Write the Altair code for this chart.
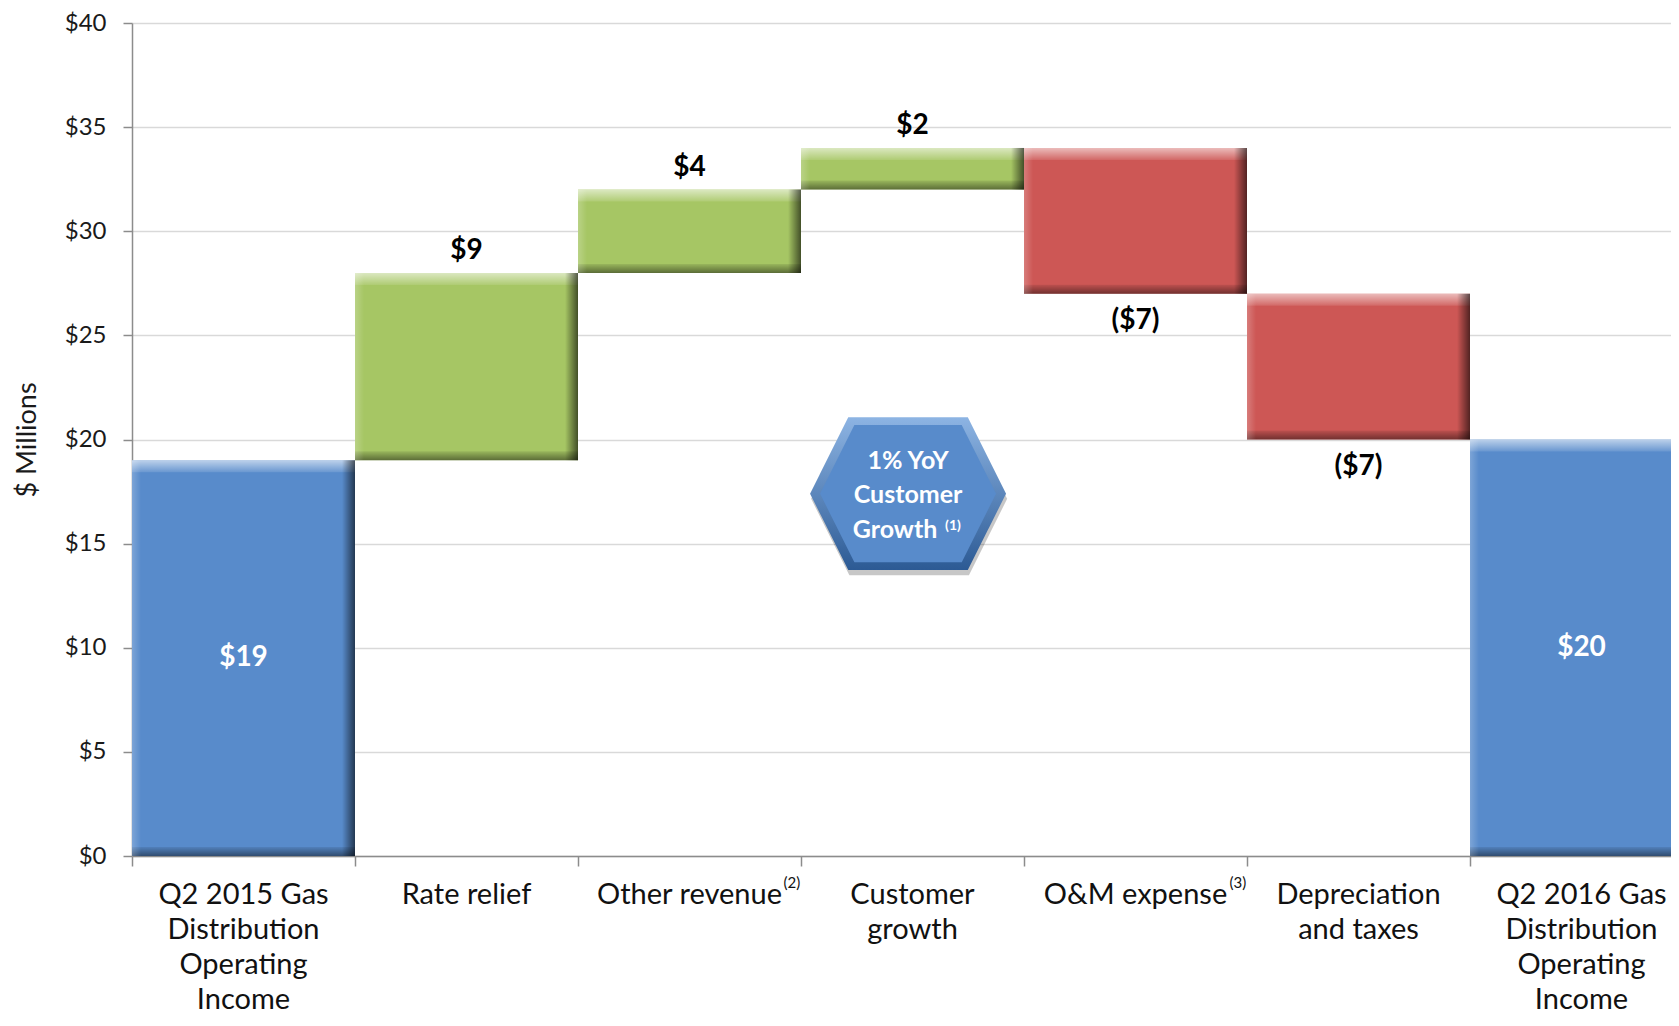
import altair as alt
import pandas as pd

# ---------------- data ----------------
categories = [
    "Q2 2015 Gas Distribution Operating Income",
    "Rate relief",
    "Other revenue",
    "Customer growth",
    "O&M expense",
    "Depreciation and taxes",
    "Q2 2016 Gas Distribution Operating Income",
]
category_labels = [
    "Q2 2015 Gas\nDistribution\nOperating\nIncome",
    "Rate relief",
    "Other revenue",
    "Customer\ngrowth",
    "O&M expense",
    "Depreciation\nand taxes",
    "Q2 2016 Gas\nDistribution\nOperating\nIncome",
]
amounts = [19, 9, 4, 2, -7, -7, 20]
kinds = ["total", "increase", "increase", "increase", "decrease", "decrease", "total"]
value_labels = ["$19", "$9", "$4", "$2", "($7)", "($7)", "$20"]
footnotes = ["", "", "(2)", "", "(3)", "", ""]
y_ticks = [0, 5, 10, 15, 20, 25, 30, 35, 40]
callout_lines = "1% YoY\nCustomer"
callout_last = "Growth"
callout_note = "(1)"

# ---------------- layout constants ----------------
PLOT_W = 1539
PLOT_H = 833
BAND_PX = 223.0
FONT = "Lato"

rows = []
run = 0
for i, (c, lab, a, k, vl, fn) in enumerate(
    zip(categories, category_labels, amounts, kinds, value_labels, footnotes)
):
    if k == "total":
        start, end = 0, a
    else:
        start, end = run, run + a
    run = end
    rows.append(
        dict(cat=c, label=lab, x0=i, x1=i + 1, xc=i + 0.5,
             lo=min(start, end), hi=max(start, end), mid=(start + end) / 2,
             kind=k, vlabel=vl, note=fn)
    )
df = pd.DataFrame(rows)

x_scale = alt.Scale(domain=[0, PLOT_W / BAND_PX], nice=False, zero=False)
y_scale = alt.Scale(domain=[0, 40], nice=False)

x_axis = alt.Axis(values=[0, 1, 2, 3, 4, 5, 6], labels=False, grid=False, title=None,
                  domainColor="#8C8C8C", domainWidth=1.5, tickColor="#8C8C8C",
                  tickWidth=1.5, tickSize=10)
y_axis = alt.Axis(values=y_ticks, labelExpr="'$' + datum.value", grid=True,
                  gridColor="#D9D9D9", gridWidth=1.5, domainColor="#8C8C8C",
                  domainWidth=1.5, tickColor="#8C8C8C", tickWidth=1.5, tickSize=9,
                  labelFont=FONT, labelFontSize=24, labelColor="#1a1a1a",
                  labelPadding=17, title="$ Millions", titleFont=FONT,
                  titleFontSize=27, titleFontWeight="normal", titleColor="#1a1a1a",
                  titleX=-105, titleY=PLOT_H / 2, titleAngle=-90,
                  titleBaseline="middle", titleAlign="center")

X0 = alt.X("x0:Q", scale=x_scale, axis=x_axis)
X1 = alt.X("x1:Q", scale=x_scale, axis=x_axis)
XC = alt.X("xc:Q", scale=x_scale, axis=x_axis)

base = alt.Chart(df)

color_scale = alt.Scale(domain=["total", "increase", "decrease"],
                        range=["#588BCB", "#A6C664", "#CD5755"])

bars = base.mark_rect(clip=True).encode(
    x=X0, x2="x1",
    y=alt.Y("lo:Q", scale=y_scale, axis=y_axis), y2="hi",
    color=alt.Color("kind:N", scale=color_scale, legend=None),
)


def grad(c0, c1, vertical=True):
    return alt.Gradient(
        gradient="linear",
        stops=[alt.GradientStop(color=c0, offset=0), alt.GradientStop(color=c1, offset=1)],
        x1=0, y1=0, x2=0 if vertical else 1, y2=1 if vertical else 0,
    )


top_strip = base.mark_rect(clip=True, y2Offset=12,
                           fill=grad("rgba(255,255,255,0.6)", "rgba(255,255,255,0.1)")).encode(
    x=X0, x2="x1", y=alt.Y("hi:Q", scale=y_scale, axis=y_axis), y2="hi")
bottom_strip = base.mark_rect(clip=True, y2Offset=-9,
                              fill=grad("rgba(0,0,0,0.08)", "rgba(0,0,0,0.45)")).encode(
    x=X0, x2="x1", y=alt.Y("lo:Q", scale=y_scale, axis=y_axis), y2="lo")
right_strip = base.mark_rect(clip=True, x2Offset=-13,
                             fill=grad("rgba(0,0,0,0.0)", "rgba(0,0,0,0.6)", vertical=False)).encode(
    x=X1, x2="x1", y=alt.Y("lo:Q", scale=y_scale, axis=y_axis), y2="hi")
left_strip = base.mark_rect(clip=True, x2Offset=9,
                            fill=grad("rgba(255,255,255,0.22)", "rgba(255,255,255,0.0)", vertical=False)).encode(
    x=X0, x2="x0", y=alt.Y("lo:Q", scale=y_scale, axis=y_axis), y2="hi")

# value labels
inc_labels = base.transform_filter("datum.kind == 'increase'").mark_text(
    font=FONT, fontSize=28, fontWeight="bold", color="#000000",
    baseline="alphabetic", dy=-14).encode(
    x=XC, y=alt.Y("hi:Q", scale=y_scale, axis=y_axis), text="vlabel:N")
dec_labels = base.transform_filter("datum.kind == 'decrease'").mark_text(
    font=FONT, fontSize=28, fontWeight="bold", color="#000000",
    baseline="alphabetic", dy=35).encode(
    x=XC, y=alt.Y("lo:Q", scale=y_scale, axis=y_axis), text="vlabel:N")
tot_labels = base.transform_filter("datum.kind == 'total'").mark_text(
    font=FONT, fontSize=28, fontWeight="bold", color="#FFFFFF",
    baseline="middle").encode(
    x=XC, y=alt.Y("mid:Q", scale=y_scale, axis=y_axis), text="vlabel:N")

# category labels under the axis
cat_text = base.mark_text(
    font=FONT, fontSize=29, color="#111111", lineBreak="\n", lineHeight=35,
    baseline="alphabetic", align="center").encode(
    x=XC, y=alt.value(881), text="label:N")
note_text = base.transform_filter("datum.note != ''").mark_text(
    font=FONT, fontSize=15, color="#111111", baseline="alphabetic",
    align="left", dx=94).encode(
    x=XC, y=alt.value(865), text="note:N")

# hexagon call-out
HEX = "M-1,0 L-0.61,-0.78 L0.61,-0.78 L1,0 L0.61,0.78 L-0.61,0.78 Z"
one = alt.Chart(pd.DataFrame({"k": [0]}))
hx, hy = 3.48, 17.4
hex_shadow = one.mark_point(shape=HEX, size=196 ** 2, filled=True, fill="#000000",
                            opacity=0.22, strokeWidth=0).encode(
    x=alt.datum(hx + 0.005, scale=x_scale), y=alt.datum(hy - 0.25, scale=y_scale))
hex_outer = one.mark_point(shape=HEX, size=196 ** 2, filled=True, opacity=1,
                           fill=grad("#8DB4E3", "#2C5A94"), strokeWidth=0).encode(
    x=alt.datum(hx, scale=x_scale), y=alt.datum(hy, scale=y_scale))
hex_inner = one.mark_point(shape=HEX, size=176 ** 2, filled=True, opacity=1,
                           fill="#588BCB", strokeWidth=0).encode(
    x=alt.datum(hx, scale=x_scale), y=alt.datum(hy, scale=y_scale))
hex_text1 = one.mark_text(font=FONT, fontSize=25, fontWeight="bold", color="#FFFFFF",
                          lineBreak="\n", lineHeight=34, baseline="alphabetic").encode(
    x=alt.datum(hx, scale=x_scale), y=alt.datum(18.58, scale=y_scale),
    text=alt.value(callout_lines))
hex_text2 = one.mark_text(font=FONT, fontSize=25, fontWeight="bold", color="#FFFFFF",
                          baseline="alphabetic", dx=-13).encode(
    x=alt.datum(hx, scale=x_scale), y=alt.datum(15.29, scale=y_scale),
    text=alt.value(callout_last))
hex_note = one.mark_text(font=FONT, fontSize=14, fontWeight="bold", color="#FFFFFF",
                         baseline="alphabetic", align="left", dx=37).encode(
    x=alt.datum(hx, scale=x_scale), y=alt.datum(15.65, scale=y_scale),
    text=alt.value(callout_note))

chart = alt.layer(
    bars, top_strip, bottom_strip, right_strip, left_strip,
    inc_labels, dec_labels, tot_labels, cat_text, note_text,
    hex_shadow, hex_outer, hex_inner, hex_text1, hex_text2, hex_note,
).properties(
    width=PLOT_W, height=PLOT_H,
    padding={"left": 124, "top": 15, "right": 0, "bottom": 162},
    autosize=alt.AutoSizeParams(type="none"),
).configure_view(stroke=None)

chart.save("out.html", embed_options={"renderer": "svg", "actions": False})
